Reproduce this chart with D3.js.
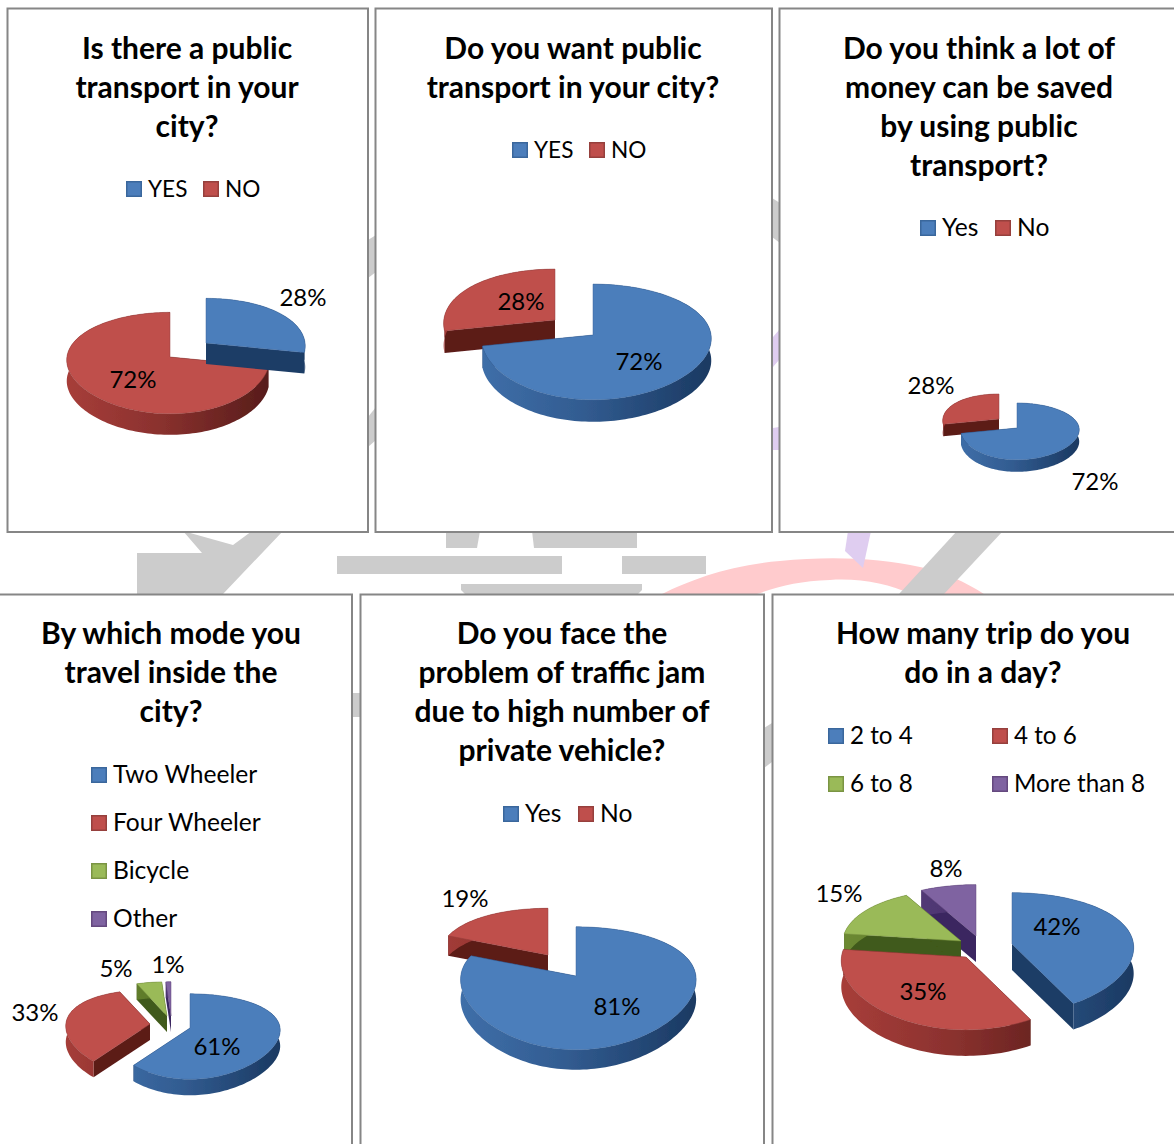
<!DOCTYPE html>
<html>
<head>
<meta charset="utf-8">
<script src="https://cdn.jsdelivr.net/npm/d3@7/dist/d3.min.js"></script>
<style>
html,body{margin:0;padding:0;background:#fff;overflow:hidden}
svg{display:block}
text{font-family:Lato,"Open Sans",sans-serif;fill:#000}
</style>
</head>
<body>
<svg id="chart" width="1174" height="1144"></svg>
<script>
// Survey answers, one small set of arrays per question
const q1Title = ["Is there a public", "transport in your", "city?"];
const q1Categories = ["YES", "NO"];
const q1Values = [28, 72];

const q2Title = ["Do you want public", "transport in your city?"];
const q2Categories = ["YES", "NO"];
const q2Values = [72, 28];

const q3Title = ["Do you think a lot of", "money can be saved", "by using public", "transport?"];
const q3Categories = ["Yes", "No"];
const q3Values = [72, 28];

const q4Title = ["By which mode you", "travel inside the", "city?"];
const q4Categories = ["Two Wheeler", "Four Wheeler", "Bicycle", "Other"];
const q4Values = [61, 33, 5, 1];

const q5Title = ["Do you face the", "problem of traffic jam", "due to high number of", "private vehicle?"];
const q5Categories = ["Yes", "No"];
const q5Values = [81, 19];

const q6Title = ["How many trip do you", "do in a day?"];
const q6Categories = ["2 to 4", "4 to 6", "6 to 8", "More than 8"];
const q6Values = [42, 35, 15, 8];

// Slice palette: top face, wall gradient light and dark ends, and cut face
const palette = [
  {top: "#4c7ebb", wallA: "#3f6fa9", wallB: "#1b3a63", cut: "#1c3c66", edge: "#3a679c"},
  {top: "#bf4f4c", wallA: "#a63d39", wallB: "#561c1a", cut: "#5b1a18", edge: "#96403d"},
  {top: "#9aba58", wallA: "#6d8a33", wallB: "#3c561a", cut: "#405a1a", edge: "#7a9443"},
  {top: "#7f63a1", wallA: "#5a3f7c", wallB: "#32205a", cut: "#3a2860", edge: "#65497f"}
];

// Frames, text anchors and the perspective set-up of each pie.
// k and kx foreshorten depth for y and x; m leans the pie sideways;
// sizes scales individual wedges where the pie is drawn unevenly.
const panels = [
  {box: [7.5, 8.5, 360.5, 523.5], cx: 187, titleY: 59, title: q1Title, cats: q1Categories, vals: q1Values, legendSize: 22.6,
   pie: {rx: 101, ry: 50, k: 0.12, kx: 0.06, m: 0.02, depth: 21, centers: [[206, 343], [170, 357]], sizes: [1, 1], order: [1, 0]},
   legend: [[126, 148, 189], [203, 225, 189]],
   labels: [[303, 298], [133, 380]]},
  {box: [375.5, 8.5, 396.5, 523.5], cx: 573, titleY: 59, title: q2Title, cats: q2Categories, vals: q2Values, legendSize: 22.6,
   pie: {rx: 114.5, ry: 57, k: 0.12, kx: 0.06, m: -0.03, depth: 22, centers: [[593, 335], [555, 320]], sizes: [1, 1], order: [1, 0]},
   legend: [[512, 534, 150], [589, 611, 150]],
   labels: [[639, 362], [521, 302]]},
  {box: [779.5, 8.5, 410, 523.5], cx: 979, titleY: 59, title: q3Title, cats: q3Categories, vals: q3Values, legendSize: 24.6,
   pie: {rx: 59, ry: 28, k: 0.12, kx: 0.06, m: -0.05, depth: 12, centers: [[1017, 428], [999, 419]], sizes: [1, 1], order: [1, 0]},
   legend: [[920, 942, 228], [995, 1017, 228]],
   labels: [[1095, 482], [931, 386]]},
  {box: [-2, 594.5, 354, 560], cx: 171, titleY: 644, title: q4Title, cats: q4Categories, vals: q4Values, legendSize: 24.6,
   pie: {rx: 87, ry: 41, k: 0.2, kx: 0.05, m: -0.034, depth: 16, centers: [[190, 1028], [150, 1024], [167, 1016], [171, 1016]], sizes: [1, 1, 1, 1], order: [3, 2, 1, 0]},
   legend: [[91, 113, 775], [91, 113, 823], [91, 113, 871], [91, 113, 919]],
   labels: [[217, 1047], [35, 1013], [116, 969], [168, 965]]},
  {box: [360.5, 594.5, 403.5, 560], cx: 562, titleY: 644, title: q5Title, cats: q5Categories, vals: q5Values, legendSize: 24.6,
   pie: {rx: 117.5, ry: 59, k: 0.2, kx: 0.06, m: -0.02, depth: 20, centers: [[576, 976], [548, 955]], sizes: [1, 0.95], order: [1, 0]},
   legend: [[503, 525, 814], [578, 600, 814]],
   labels: [[617, 1007], [465, 899]]},
  {box: [772.5, 594.5, 420, 560], cx: 983, titleY: 644, title: q6Title, cats: q6Categories, vals: q6Values, legendSize: 24.2,
   pie: {rx: 120, ry: 59, k: 0.15, kx: 0.06, m: -0.012, depth: 26, centers: [[1012, 944], [966, 957], [961, 941], [976, 936]], sizes: [1, 1.05, 1, 1], order: [3, 2, 0, 1]},
   legend: [[828, 850, 736], [992, 1014, 736], [828, 850, 784], [992, 1014, 784]],
   labels: [[1057, 927], [923, 992], [839, 894], [946, 869]]}
];

// Faint letterhead artwork that shows between the frames
const backdrop = [
  {fill: "#ffcbcd", d: "M662,594 C690,580 730,565 780,561 C830,556 880,558 920,567 C945,572 965,582 984,594 L910,594 C890,584 860,578 830,580 C800,581 780,586 757,594 Z"},
  {fill: "#dfcdf0", d: "M848,531 L871,531 L863,568 L845,551 Z"},
  {fill: "#dfcdf0", d: "M773,337 L779,330 L779,360 L773,367 Z"},
  {fill: "#dfcdf0", d: "M773,428 L779,427 L779,450 L773,450 Z"},
  {fill: "#cccccc", d: "M183,531 L233,545 L252,531 L283,531 L223,594 L137,594 L137,553 L202,553 Z"},
  {fill: "#cccccc", d: "M446,531 L480,531 L477,548 L446,548 Z"},
  {fill: "#cccccc", d: "M532,531 L637,531 L637,548 L534,548 Z"},
  {fill: "#cccccc", d: "M337,556 L562,556 L562,574 L337,574 Z"},
  {fill: "#cccccc", d: "M622,556 L706,556 L706,574 L622,574 Z"},
  {fill: "#cccccc", d: "M461,584 L642,584 L642,590 L638,594 L465,594 L461,590 Z"},
  {fill: "#cccccc", d: "M957,531 L1003,531 L944,594 L899,594 Z"},
  {fill: "#cccccc", d: "M368,240 L376,235 L376,272 L368,278 Z"},
  {fill: "#cccccc", d: "M368,417 L376,407 L376,440 L368,447 Z"},
  {fill: "#cccccc", d: "M772,198 L780,203 L780,243 L772,237 Z"},
  {fill: "#cccccc", d: "M352,693 L360,693 L360,717 L352,717 Z"},
  {fill: "#cccccc", d: "M764,728 L772,723 L772,762 L764,768 Z"}
];

const svg = d3.select("#chart");
const defs = svg.append("defs");
defs.append("filter").attr("id", "soft")
  .attr("x", "-5%").attr("y", "-5%").attr("width", "110%").attr("height", "110%")
  .append("feGaussianBlur").attr("stdDeviation", 0.6);

svg.append("g").selectAll("path").data(backdrop).join("path")
  .attr("d", d => d.d).attr("fill", d => d.fill);

const pieLayout = d3.pie().sort(null).value(d => d);
const polyline = d3.line().x(d => d[0]).y(d => d[1]);

panels.forEach((p, pi) => {
  const g = svg.append("g");
  g.append("rect")
    .attr("x", p.box[0]).attr("y", p.box[1]).attr("width", p.box[2]).attr("height", p.box[3])
    .attr("fill", "#fff").attr("stroke", "#868686").attr("stroke-width", 2);

  g.append("g").selectAll("text").data(p.title).join("text")
    .attr("x", p.cx).attr("y", (d, i) => p.titleY + i * 39)
    .attr("text-anchor", "middle").attr("font-size", 30).attr("font-weight", 700)
    .text(d => d);

  // Each wedge is projected through a simple perspective on its own centre
  const {rx, ry, k, kx, m, depth, centers, sizes, order} = p.pie;
  const project = (c, a, size) => {
    const u = Math.sin(a), v = Math.cos(a);
    return [c[0] + size * rx * u / (1 + kx * v + m * u), c[1] - size * ry * v / (1 + k * v)];
  };
  const arcs = pieLayout(p.vals);
  const pies = g.append("g").attr("filter", "url(#soft)");

  order.forEach(i => {
    const a = arcs[i], c = centers[i], col = palette[i];
    const n = Math.max(2, Math.ceil((a.endAngle - a.startAngle) / 0.03));
    const rim = d3.range(n + 1).map(t => project(c, a.startAngle + (a.endAngle - a.startAngle) * t / n, sizes[i]));
    const down = q => [q[0], q[1] + depth];

    const gradId = `wall-${pi}-${i}`;
    const grad = defs.append("linearGradient").attr("id", gradId)
      .attr("gradientUnits", "userSpaceOnUse")
      .attr("x1", c[0] - rx).attr("x2", c[0] + rx).attr("y1", 0).attr("y2", 0);
    grad.append("stop").attr("offset", 0).attr("stop-color", col.wallA);
    grad.append("stop").attr("offset", 0.45).attr("stop-color", d3.interpolateRgb(col.wallA, col.wallB)(0.35));
    grad.append("stop").attr("offset", 1).attr("stop-color", col.wallB);

    // Radial cut faces, then the curved wall, then the top face over them
    [rim[0], rim[n]].forEach(q => {
      pies.append("path")
        .attr("d", polyline([c, q, down(q), down(c)]) + "Z")
        .attr("fill", col.cut);
    });
    pies.append("path")
      .attr("d", polyline(rim.concat(rim.map(down).reverse())) + "Z")
      .attr("fill", `url(#${gradId})`);
    pies.append("path")
      .attr("d", polyline([c].concat(rim)) + "Z")
      .attr("fill", col.top).attr("stroke", col.edge).attr("stroke-width", 0.5);
  });

  g.append("g").selectAll("text").data(p.vals).join("text")
    .attr("x", (d, i) => p.labels[i][0]).attr("y", (d, i) => p.labels[i][1] + 8)
    .attr("text-anchor", "middle").attr("font-size", 24)
    .text(d => d + "%");

  const leg = g.append("g").selectAll("g").data(p.cats).join("g");
  leg.append("rect")
    .attr("x", (d, i) => p.legend[i][0] + 0.75).attr("y", (d, i) => p.legend[i][2] - 7.25)
    .attr("width", 14.5).attr("height", 14.5)
    .attr("fill", (d, i) => palette[i].top).attr("stroke", (d, i) => palette[i].edge).attr("stroke-width", 1.5);
  leg.append("text")
    .attr("x", (d, i) => p.legend[i][1]).attr("y", (d, i) => p.legend[i][2] + 8)
    .attr("font-size", p.legendSize)
    .text(d => d);
});
</script>
</body>
</html>
